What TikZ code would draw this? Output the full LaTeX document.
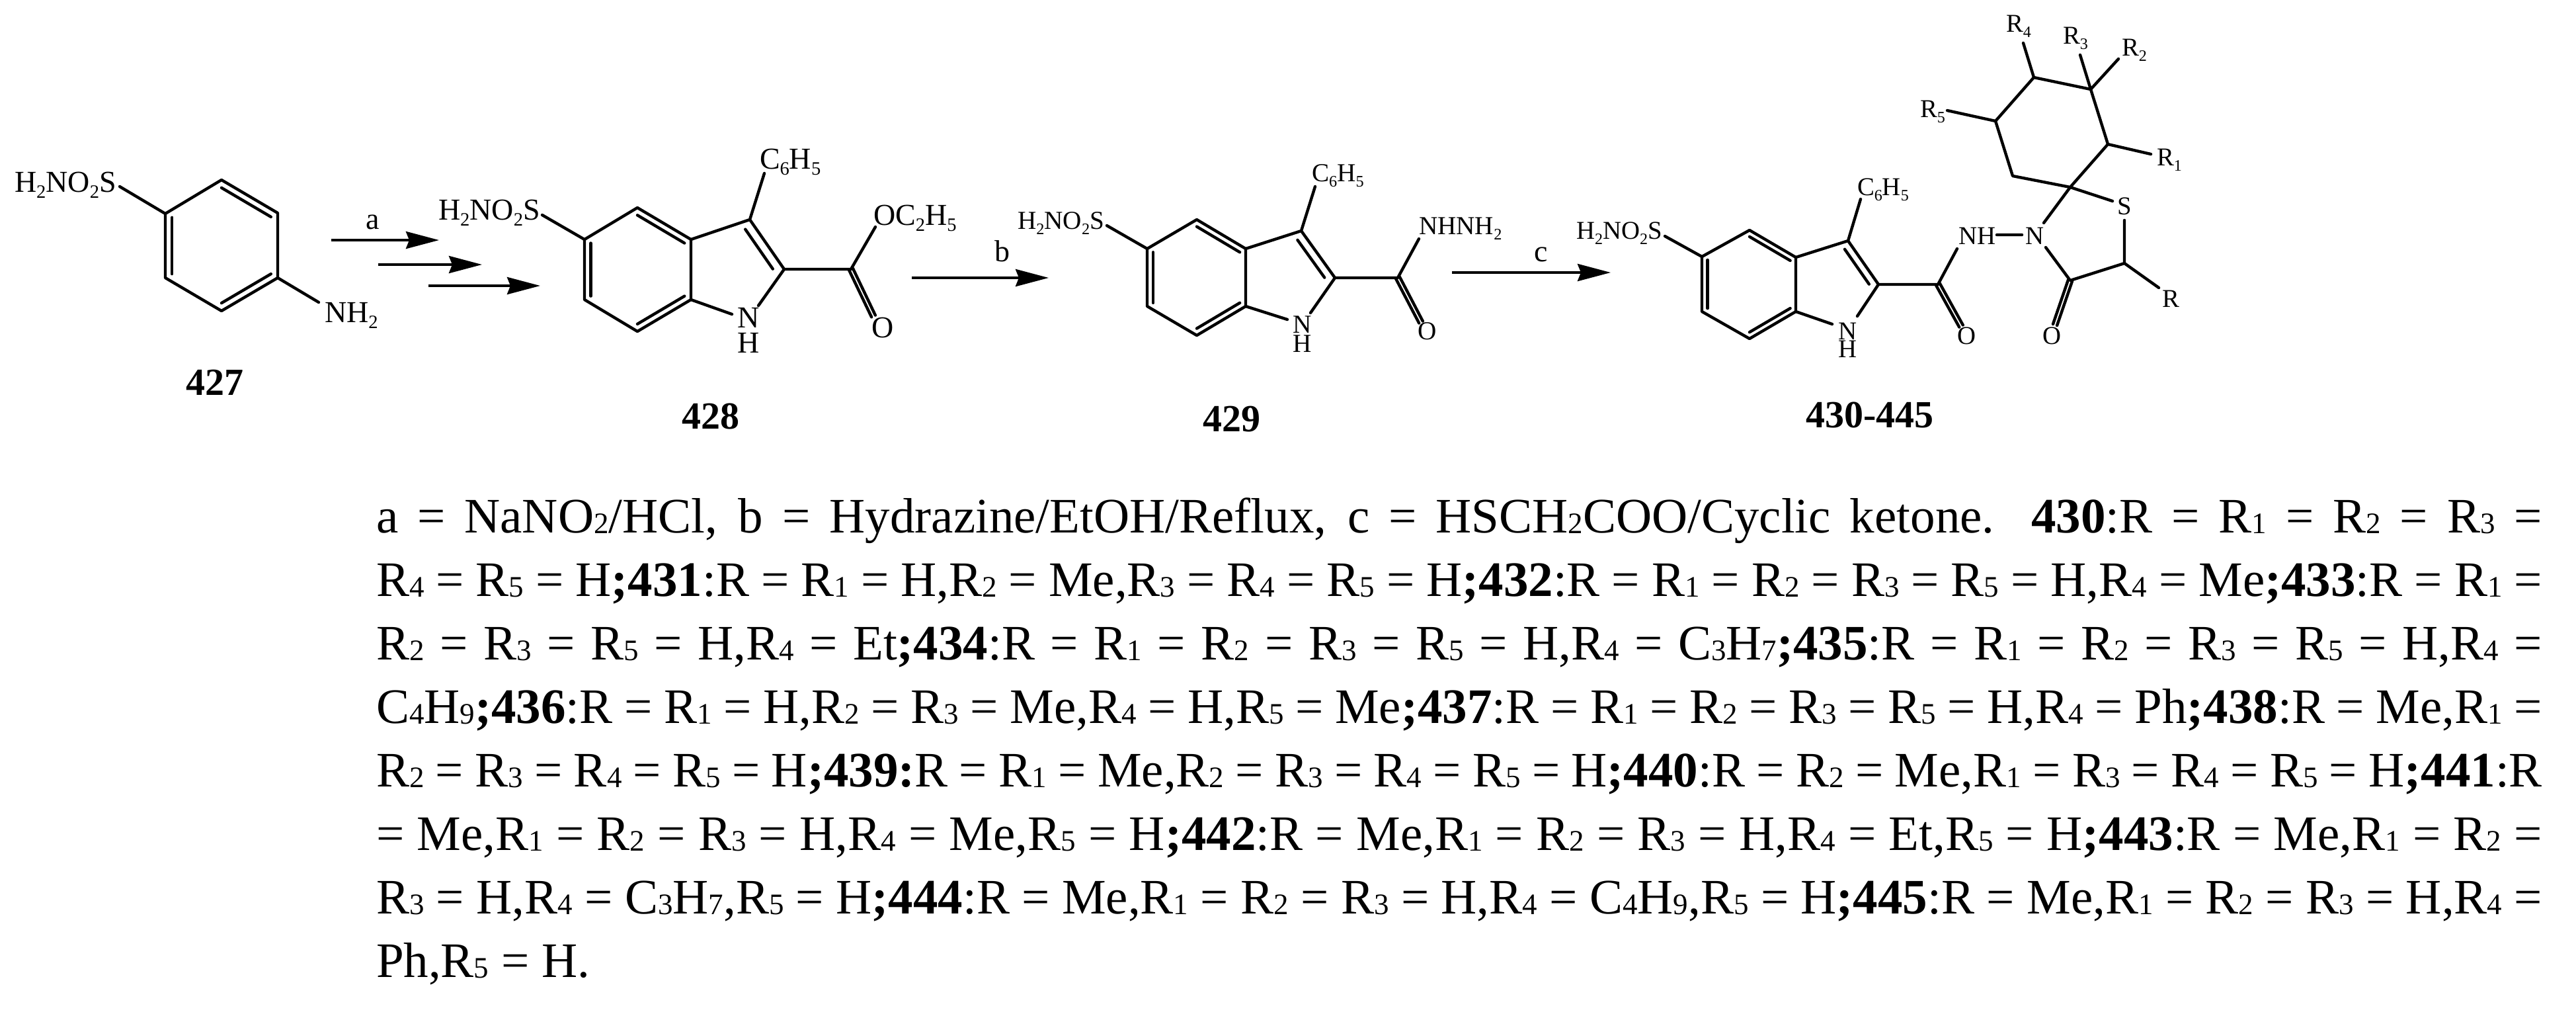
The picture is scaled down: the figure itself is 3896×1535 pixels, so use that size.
\documentclass[tikz,border=0pt]{standalone}
\usepackage{fontspec}
\setmainfont{Liberation Serif}
\usetikzlibrary{calc,arrows.meta}
\newcommand\sbs[1]{\raisebox{-.21em}{\scalebox{.62}{#1}}}
\newcommand\ps[1]{\raisebox{-.015em}{\scalebox{.6}{#1}}}
\newcommand\Rn[1]{R\ps{#1}}
\newcommand\Rb[1]{R\sbs{#1}}
\newcommand\sulf{H\sbs{2}NO\sbs{2}S}
\newcommand\phen{C\sbs{6}H\sbs{5}}
\newcommand\nh[1]{\vbox{\baselineskip=#1\relax\hbox{N}\hbox{H}}}
\tikzset{
  bond/.style={line width=1.1pt,line cap=round,line join=round},
  rx/.style={line width=1pt,-{Stealth[length=12.5pt,width=6.5pt,inset=1.25pt]}},
  lab/.style={inner sep=0pt,outer sep=0pt,anchor=base west},
  labc/.style={inner sep=0pt,outer sep=0pt,anchor=base},
  fa/.style={font=\fontsize{11.5}{13}\selectfont},
  fb/.style={font=\fontsize{9.8}{12}\selectfont},
  fc/.style={font=\fontsize{9.7}{12}\selectfont},
  cpd/.style={labc,font=\fontsize{14.5}{16}\selectfont\bfseries},
  pline/.style={lab,font=\fontsize{18.75}{24}\selectfont},
}
\newcommand\dblr[3]{\draw[bond] ($(#1)!.12!(#3)$) -- ($(#2)!.12!(#3)$);}
\newcommand\dblp[3]{\draw[bond] ($(#1)!.2!(#3)$) -- ($(#2)!.2!(#3)$);}
\newcommand\dblc[2]{\draw[bond] ($(#1)!.8pt!90:(#2)$) -- ($(#2)!.8pt!-90:(#1)$); \draw[bond] ($(#1)!.8pt!-90:(#2)$) -- ($(#2)!.8pt!90:(#1)$);}
\newcommand\plw[1]{\makebox[819pt][s]{#1}}
\begin{document}
\begin{tikzpicture}[x=.25pt,y=-.25pt]
\useasboundingbox (0,0) rectangle (3896,1535);
% ---------- 427
\foreach \n/\p in {a1/{250,323},a2/{335,272},a3/{420,322},a4/{420,420},a5/{335,470},a6/{250,420},ac/{335,371},aS/{181,282},aN/{482,457}} \coordinate (\n) at (\p);
\draw[bond] (a1)--(a2)--(a3)--(a4)--(a5)--(a6)--cycle;
\dblr{a1}{a6}{ac}\dblr{a2}{a3}{ac}\dblr{a4}{a5}{ac}
\draw[bond] (a1)--(aS) (a4)--(aN);
\node[lab,fa] (aSl) at (22,290) {\sulf};
\node[lab,fa] (aNl) at (491,487) {NH\sbs{2}};
\node[cpd] (n427) at (325,597) {427};
% arrows a
\foreach \n/\p in {r1s/{501,363},r1e/{664,363},r2s/{572,400},r2e/{729,400},r3s/{648,432},r3e/{817,432}} \coordinate (\n) at (\p);
\draw[rx] (r1s)--(r1e);
\draw[rx] (r2s)--(r2e);
\draw[rx] (r3s)--(r3e);
\node[labc,fa] (la) at (564,346) {a};
% ---------- 428
\foreach \n/\p in {b1/{884,362},b2/{964,314},b3/{1045,362},b4/{1045,453},b5/{964,501},b6/{884,453},bc/{964,408},b7/{1134,332},b8/{1186,407},bp/{1100,405},bN1/{1107,475},bN2/{1147,462},bPh/{1156,262},bS/{820,325},bC/{1287,407},bO/{1321,478},bOe/{1324,343}} \coordinate (\n) at (\p);
\draw[bond] (b1)--(b2)--(b3)--(b4)--(b5)--(b6)--cycle;
\dblr{b1}{b6}{bc}\dblr{b2}{b3}{bc}\dblr{b4}{b5}{bc}
\draw[bond] (b3)--(b7)--(b8)--(bC) (b4)--(bN1) (b8)--(bN2) (b7)--(bPh) (b1)--(bS) (bC)--(bOe);
\dblp{b7}{b8}{bp}
\dblc{bC}{bO}
\node[lab,fa] (bSl) at (663,332) {\sulf};
\node[lab,fa] (bPl) at (1149,255) {\phen};
\node[lab,fa] (bEl) at (1321,340) {OC\sbs{2}H\sbs{5}};
\node[labc,fa] (bNl) at (1132,533) {\nh{9.5pt}};
\node[labc,fa] (bOl) at (1335,510) {O};
\node[cpd] (n428) at (1075,648) {428};
% arrow b
\coordinate (r4s) at (1379,420); \coordinate (r4e) at (1586,420);
\draw[rx] (r4s)--(r4e);
\node[labc,fa] (lb) at (1516,395) {b};
% ---------- 429
\foreach \n/\p in {c1/{1735,376},c2/{1810,332},c3/{1884,376},c4/{1884,463},c5/{1810,507},c6/{1735,463},cc/{1810,420},c7/{1968,349},c8/{2019,420},cp/{1940,418},cN1/{1947,483},cN2/{1982,473},cPh/{1989,282},cS/{1674,341},cC/{2114,420},cO/{2149,487},cNN/{2146,361}} \coordinate (\n) at (\p);
\draw[bond] (c1)--(c2)--(c3)--(c4)--(c5)--(c6)--cycle;
\dblr{c1}{c6}{cc}\dblr{c2}{c3}{cc}\dblr{c4}{c5}{cc}
\draw[bond] (c3)--(c7)--(c8)--(cC) (c4)--(cN1) (c8)--(cN2) (c7)--(cPh) (c1)--(cS) (cC)--(cNN);
\dblp{c7}{c8}{cp}
\dblc{cC}{cO}
\node[lab,fb] (cSl) at (1539,346) {\sulf};
\node[lab,fb] (cPl) at (1984,274) {\phen};
\node[lab,fb] (cHl) at (2146,354) {NHNH\sbs{2}};
\node[labc,fb] (cNl) at (1970,532) {\nh{7.25pt}};
\node[labc,fb] (cOl) at (2159,513) {O};
\node[cpd] (n429) at (1863,652) {429};
% arrow c
\coordinate (r5s) at (2196,412); \coordinate (r5e) at (2436,412);
\draw[rx] (r5s)--(r5e);
\node[labc,fa] (lc) at (2331,395) {c};
% ---------- 430-445
\foreach \n/\p in {d1/{2574,388},d2/{2646,348},d3/{2716,389},d4/{2716,471},d5/{2646,512},d6/{2574,471},dc/{2646,430},d7/{2795,364},d8/{2841,430},dp/{2770,428},dN1/{2771,490},dN2/{2809,478},dPh/{2814,301},dS/{2518,357},dC/{2931,430},dO/{2966,493},dNH/{2960,376},dL/{3020,355},dR/{3058,355},
 e1/{3131,283},e2/{3044,266},e3/{3018,183},e4/{3076,117},e5/{3162,135},e6/{3188,218},
 f1/{3091,337},f2/{3195,304},f3/{3094,374},f4/{3131,424},f5/{3213,398},f6/{3213,333},f7/{3265,435},f8/{3108,491},
 g5/{2945,167},g4/{3060,65},g3/{3146,83},g2/{3204,89},g1/{3253,233}} \coordinate (\n) at (\p);
\draw[bond] (d1)--(d2)--(d3)--(d4)--(d5)--(d6)--cycle;
\dblr{d1}{d6}{dc}\dblr{d2}{d3}{dc}\dblr{d4}{d5}{dc}
\draw[bond] (d3)--(d7)--(d8)--(dC) (d4)--(dN1) (d8)--(dN2) (d7)--(dPh) (d1)--(dS) (dC)--(dNH) (dL)--(dR);
\dblp{d7}{d8}{dp}
\dblc{dC}{dO}
\draw[bond] (e1)--(e2)--(e3)--(e4)--(e5)--(e6)--cycle;
\draw[bond] (e1)--(f1) (e1)--(f2) (f3)--(f4)--(f5)--(f6) (f5)--(f7);
\dblc{f4}{f8}
\draw[bond] (e3)--(g5) (e4)--(g4) (e5)--(g3) (e5)--(g2) (e6)--(g1);
\node[lab,fc] (dSl) at (2384,361) {\sulf};
\node[lab,fc] (dPl) at (2809,295) {\phen};
\node[labc,fc] (dNl) at (2794,540) {\nh{6.75pt}};
\node[labc,fc] (dOl) at (2974,520) {O};
\node[lab,fc] (dNHl) at (2962,369) {NH};
\node[labc,fc] (dN2l) at (3077,369) {N};
\node[labc,fc] (dSSl) at (3213,324) {S};
\node[labc,fc] (dRl) at (3283,464) {R};
\node[labc,fc] (dO2l) at (3103,520) {O};
\node[lab,fc] (R5l) at (2904,177) {\Rb{5}};
\node[lab,fc] (R4l) at (3034,48) {\Rb{4}};
\node[lab,fc] (R3l) at (3120,66) {\Rb{3}};
\node[lab,fc] (R2l) at (3209,84) {\Rb{2}};
\node[lab,fc] (R1l) at (3262,250) {\Rb{1}};
\node[cpd] (n430) at (2828,646) {430-445};
% ---------- paragraph
\node[pline] (p1) at (569,805) {\plw{a = NaNO\ps{2}/HCl, b = Hydrazine/EtOH/Reflux, c = HSCH\ps{2}COO/Cyclic ketone. \textbf{430}:R = \Rn{1} = \Rn{2} = \Rn{3} =}};
\node[pline] (p2) at (569,901) {\plw{\Rn{4} = \Rn{5} = H\textbf{;431}:R = \Rn{1} = H,\Rn{2} = Me,\Rn{3} = \Rn{4} = \Rn{5} = H\textbf{;432}:R = \Rn{1} = \Rn{2} = \Rn{3} = \Rn{5} = H,\Rn{4} = Me\textbf{;433}:R = \Rn{1} =}};
\node[pline] (p3) at (569,997) {\plw{\Rn{2} = \Rn{3} = \Rn{5} = H,\Rn{4} = Et\textbf{;434}:R = \Rn{1} = \Rn{2} = \Rn{3} = \Rn{5} = H,\Rn{4} = C\ps{3}H\ps{7}\textbf{;435}:R = \Rn{1} = \Rn{2} = \Rn{3} = \Rn{5} = H,\Rn{4} =}};
\node[pline] (p4) at (569,1093) {\plw{C\ps{4}H\ps{9}\textbf{;436}:R = \Rn{1} = H,\Rn{2} = \Rn{3} = Me,\Rn{4} = H,\Rn{5} = Me\textbf{;437}:R = \Rn{1} = \Rn{2} = \Rn{3} = \Rn{5} = H,\Rn{4} = Ph\textbf{;438}:R = Me,\Rn{1} =}};
\node[pline] (p5) at (569,1189) {\plw{\Rn{2} = \Rn{3} = \Rn{4} = \Rn{5} = H\textbf{;439:}R = \Rn{1} = Me,\Rn{2} = \Rn{3} = \Rn{4} = \Rn{5} = H\textbf{;440}:R = \Rn{2} = Me,\Rn{1} = \Rn{3} = \Rn{4} = \Rn{5} = H\textbf{;441}:R}};
\node[pline] (p6) at (569,1285) {\plw{= Me,\Rn{1} = \Rn{2} = \Rn{3} = H,\Rn{4} = Me,\Rn{5} = H\textbf{;442}:R = Me,\Rn{1} = \Rn{2} = \Rn{3} = H,\Rn{4} = Et,\Rn{5} = H\textbf{;443}:R = Me,\Rn{1} = \Rn{2} =}};
\node[pline] (p7) at (569,1381) {\plw{\Rn{3} = H,\Rn{4} = C\ps{3}H\ps{7},\Rn{5} = H\textbf{;444}:R = Me,\Rn{1} = \Rn{2} = \Rn{3} = H,\Rn{4} = C\ps{4}H\ps{9},\Rn{5} = H\textbf{;445}:R = Me,\Rn{1} = \Rn{2} = \Rn{3} = H,\Rn{4} =}};
\node[pline] (p8) at (569,1477) {Ph,\Rn{5} = H.};
\end{tikzpicture}
\end{document}
